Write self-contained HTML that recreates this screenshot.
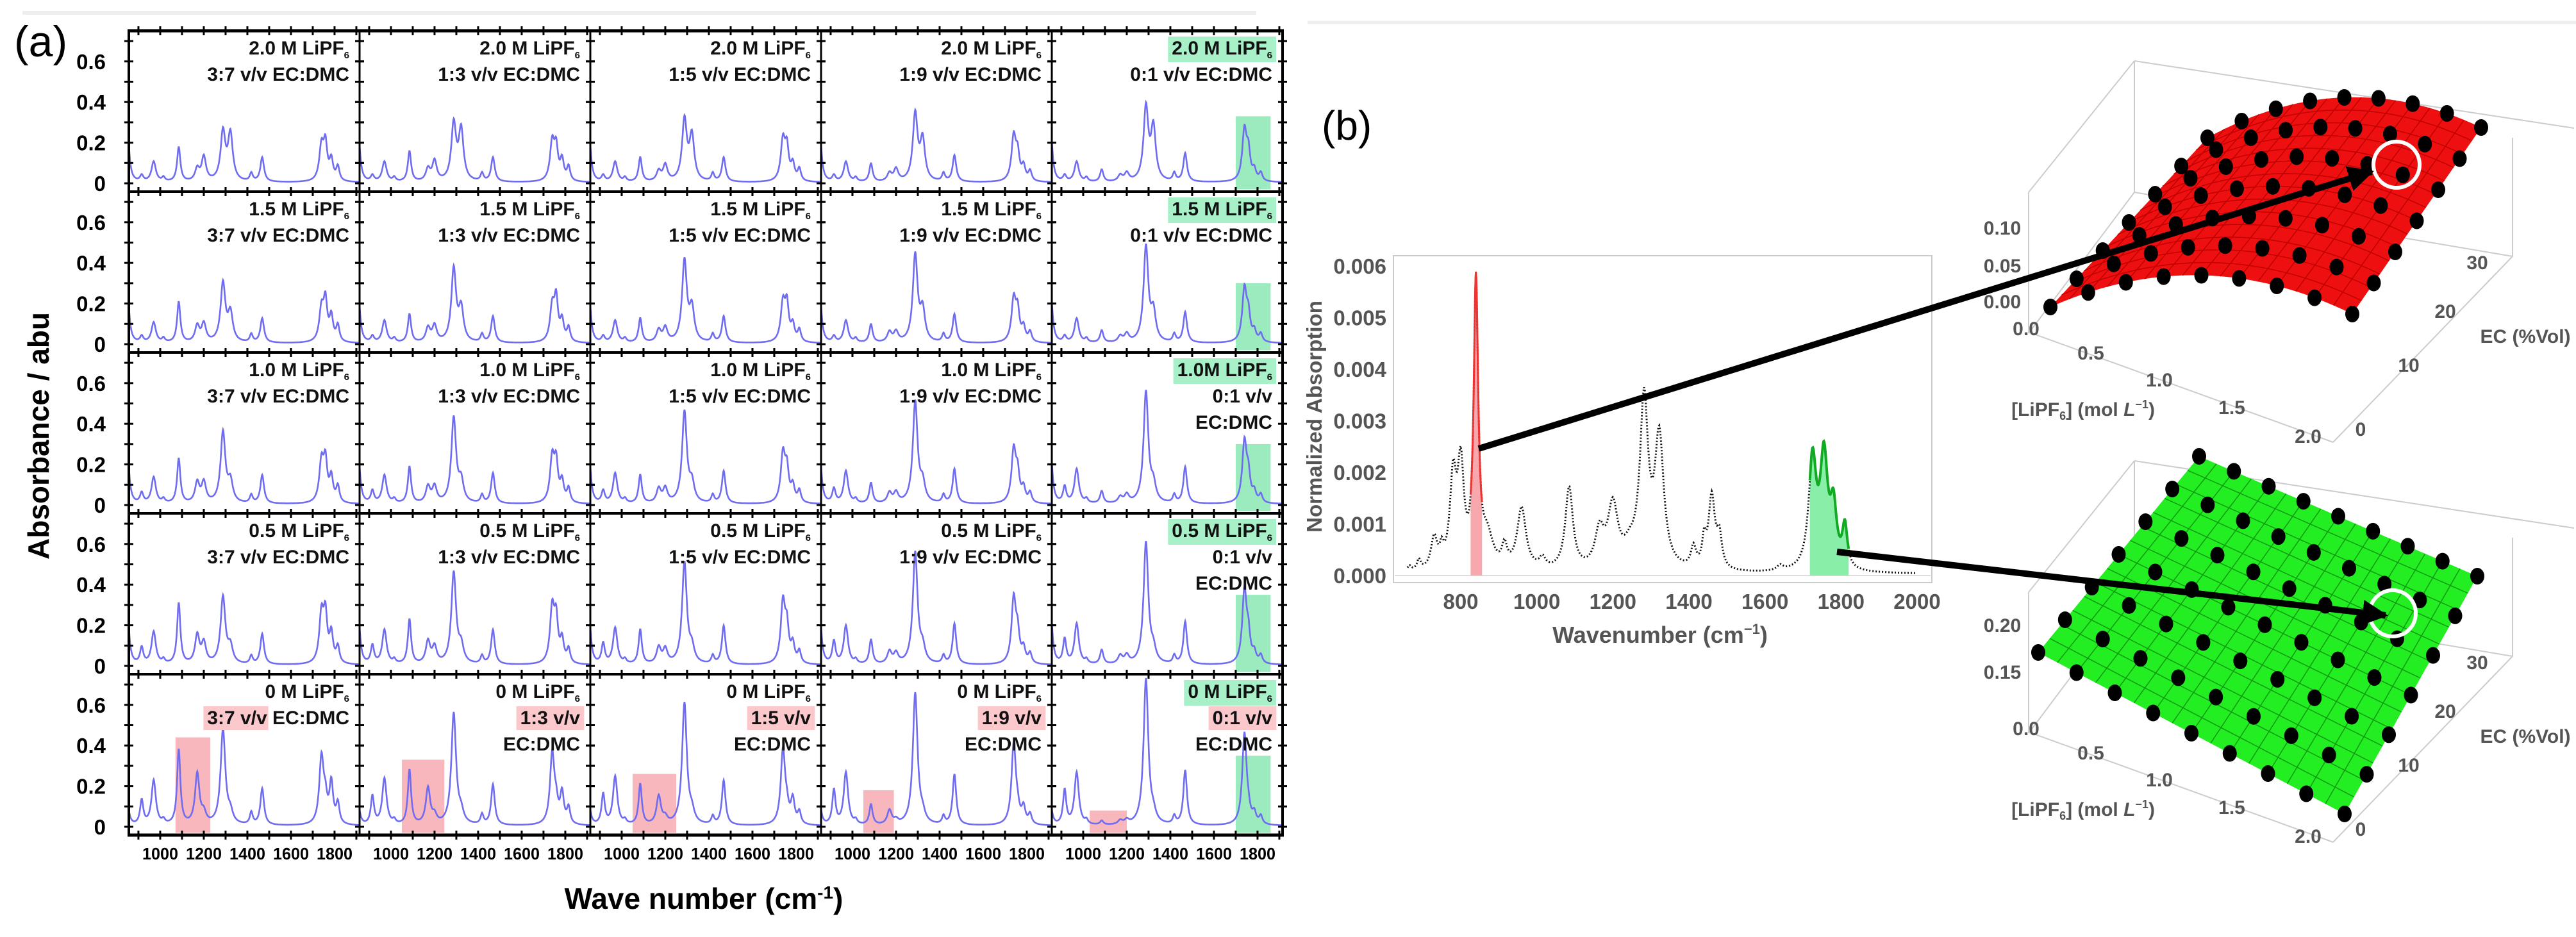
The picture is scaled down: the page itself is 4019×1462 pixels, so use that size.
<!DOCTYPE html>
<html><head><meta charset="utf-8"><style>
html,body{margin:0;padding:0;background:#fff;}
svg{display:block;font-family:"Liberation Sans",sans-serif;}
</style></head><body>
<svg id="fig" width="4019" height="1462" viewBox="0 0 4019 1462" xmlns="http://www.w3.org/2000/svg">
<line x1="35" y1="20" x2="1960" y2="20" stroke="#eee" stroke-width="6"/>
<line x1="2040" y1="35" x2="4019" y2="35" stroke="#eee" stroke-width="5"/>
<text x="22" y="88" font-size="68">(a)</text>
<text x="2062" y="218" font-size="64">(b)</text>
<g id="pa"></g>
<g id="pb"></g>
<g id="p3"></g>
</svg>
<script>
// ---------- Panel (a) data ----------
const concentrations = ["2.0","1.5","1.0","0.5","0"];
const ratios = ["3:7","1:3","1:5","1:9","0:1"];
const yTicksA = [0,0.2,0.4,0.6];
const xTicksA = [1000,1200,1400,1600,1800];
const peakPos = [850,915,970,1015,1085,1170,1200,1288,1322,1418,1468,1740,1758,1785,1815];
const peakW   = [10,9,12,8,9,12,12,13,13,8,10,12,10,10,9];
// heights [row][col][peak]
const H = [
 [[0.25,0.03,0.1,0.02,0.17,0.06,0.12,0.24,0.23,0.04,0.12,0.17,0.17,0.1,0.07],
  [0.25,0.03,0.1,0.02,0.15,0.06,0.1,0.28,0.25,0.04,0.12,0.19,0.15,0.1,0.07],
  [0.25,0.03,0.1,0.02,0.12,0.05,0.08,0.3,0.22,0.04,0.12,0.2,0.15,0.08,0.06],
  [0.25,0.03,0.1,0.02,0.09,0.04,0.06,0.33,0.2,0.04,0.13,0.22,0.12,0.07,0.05],
  [0.28,0.03,0.1,0.02,0.06,0.03,0.04,0.36,0.26,0.04,0.14,0.25,0.13,0.05,0.04]],
 [[0.25,0.03,0.1,0.02,0.2,0.08,0.09,0.29,0.14,0.04,0.12,0.16,0.19,0.12,0.08],
  [0.25,0.03,0.11,0.02,0.14,0.07,0.08,0.36,0.16,0.04,0.13,0.17,0.2,0.1,0.07],
  [0.25,0.03,0.11,0.02,0.12,0.06,0.07,0.4,0.16,0.04,0.13,0.19,0.17,0.08,0.06],
  [0.25,0.03,0.11,0.02,0.09,0.05,0.05,0.43,0.15,0.04,0.14,0.21,0.14,0.07,0.05],
  [0.28,0.03,0.12,0.02,0.06,0.03,0.04,0.47,0.14,0.04,0.15,0.26,0.12,0.05,0.04]],
 [[0.25,0.05,0.13,0.02,0.22,0.1,0.1,0.35,0.1,0.04,0.14,0.2,0.19,0.12,0.08],
  [0.25,0.06,0.14,0.02,0.18,0.08,0.08,0.42,0.1,0.04,0.15,0.22,0.18,0.1,0.07],
  [0.25,0.06,0.15,0.02,0.14,0.07,0.07,0.45,0.09,0.04,0.16,0.24,0.15,0.08,0.06],
  [0.25,0.07,0.16,0.02,0.1,0.05,0.05,0.5,0.09,0.04,0.17,0.26,0.13,0.07,0.05],
  [0.28,0.08,0.17,0.02,0.06,0.03,0.04,0.55,0.08,0.04,0.18,0.3,0.12,0.05,0.04]],
 [[0.25,0.08,0.16,0.02,0.3,0.14,0.1,0.33,0.08,0.04,0.15,0.24,0.22,0.14,0.08],
  [0.25,0.09,0.17,0.02,0.22,0.11,0.08,0.45,0.08,0.04,0.17,0.27,0.2,0.11,0.07],
  [0.25,0.1,0.18,0.02,0.17,0.08,0.07,0.5,0.07,0.04,0.19,0.3,0.16,0.09,0.06],
  [0.25,0.11,0.19,0.02,0.12,0.06,0.05,0.55,0.07,0.04,0.2,0.32,0.13,0.07,0.05],
  [0.28,0.12,0.2,0.02,0.07,0.04,0.04,0.6,0.06,0.04,0.21,0.36,0.12,0.05,0.04]],
 [[0.1,0.12,0.22,0.02,0.37,0.25,0.05,0.47,0.05,0.06,0.18,0.33,0.1,0.2,0.1],
  [0.1,0.14,0.23,0.02,0.27,0.18,0.04,0.55,0.05,0.05,0.2,0.35,0.08,0.15,0.08],
  [0.1,0.15,0.24,0.02,0.2,0.14,0.03,0.6,0.05,0.04,0.22,0.37,0.06,0.12,0.06],
  [0.1,0.17,0.26,0.02,0.1,0.07,0.02,0.65,0.04,0.04,0.25,0.4,0.05,0.08,0.05],
  [0.1,0.17,0.26,0.02,0.02,0.02,0.02,0.72,0.04,0.04,0.27,0.45,0.04,0.05,0.04]]
];
const redBoxTop = [0.44,0.33,0.26,0.18,0.08];
const redBoxLo  = [1070,1050,1050,1050,1030];
const redBoxHi  = [1230,1245,1250,1190,1200];
const greenBoxTop = [0.33,0.3,0.3,0.35,0.35];

// ---------- Panel (b) data ----------
const bPeakPos = [665,690,730,750,780,800,840,870,915,960,1015,1085,1165,1200,1245,1282,1322,1412,1440,1460,1480,1640,1725,1755,1780,1810];
const bPeakH   = [0.0001,0.0002,0.0006,0.0003,0.0017,0.0019,0.0055,0.0006,0.0004,0.0012,0.0002,0.0016,0.0007,0.0012,0.0003,0.0032,0.0025,0.0004,0.0005,0.0014,0.0006,0.0001,0.0021,0.0021,0.0011,0.0008];
const bPeakW   = [6,6,10,6,10,10,7,18,8,14,10,12,14,16,20,13,14,8,6,10,8,10,12,12,10,8];
const bYTicks = [0,0.001,0.002,0.003,0.004,0.005,0.006];
const bXTicks = [800,1000,1200,1400,1600,1800,2000];

const NS="http://www.w3.org/2000/svg";
function mk(tag,attrs,parent){const e=document.createElementNS(NS,tag);for(const k in attrs)e.setAttribute(k,attrs[k]);parent.appendChild(e);return e;}

// ---------- Panel (a) ----------
const pa=document.getElementById('pa');
const L=201,T=48,CW=360,RH=251,WMIN=856,PXW=0.34,Z0=238,PXV=317;
function xa(c,w){return L+c*CW+(w-WMIN)*PXW;}
function ya(r,v){return T+r*RH+Z0-v*PXV;}
const defs=mk('defs',{},document.getElementById('fig'));
for(let r=0;r<5;r++)for(let c=0;c<5;c++){
  const cp=mk('clipPath',{id:'cl'+r+c},defs);
  mk('rect',{x:L+c*CW,y:T+r*RH,width:CW,height:RH},cp);
}
for(let r=0;r<5;r++){
  for(let c=0;c<5;c++){
    const g=mk('g',{'clip-path':'url(#cl'+r+c+')'},pa);
    
    
    if(r===4){
      const rb=mk('rect',{x:xa(c,redBoxLo[c]),y:ya(r,redBoxTop[c]),width:(redBoxHi[c]-redBoxLo[c])*PXW,height:ya(r,-0.03)-ya(r,redBoxTop[c]),fill:'#f7aab0',opacity:0.85},g);
      
      
    }
    if(c===4){
      const gb=mk('rect',{x:xa(c,1700),y:ya(r,greenBoxTop[r]),width:160*PXW,height:ya(r,-0.03)-ya(r,greenBoxTop[r]),fill:'#8be8b4',opacity:0.85},g);
      
      
    }
    let d='';
    for(let w=840;w<=1920;w+=2){
      let v=0.004;
      for(let k=0;k<peakPos.length;k++){const t=(w-peakPos[k])/peakW[k];v+=H[r][c][k]/(1+t*t);}
      d+=(d?'L':'M')+xa(c,w).toFixed(1)+','+ya(r,v).toFixed(1);
    }
    const p=mk('path',{d:d,fill:'none',stroke:'#6f6cf0','stroke-width':2.6},g);
    
    
    for(let w=900;w<=1900;w+=100){
      const x=xa(c,w);
      mk('line',{x1:x,y1:T+r*RH-7,x2:x,y2:T+r*RH+7,stroke:'#000','stroke-width':3},pa);
      mk('line',{x1:x,y1:T+(r+1)*RH-7,x2:x,y2:T+(r+1)*RH+7,stroke:'#000','stroke-width':3},pa);
    }
    for(let v=0;v<=0.71;v+=0.1){
      const y=ya(r,v);
      mk('line',{x1:L+c*CW-7,y1:y,x2:L+c*CW+7,y2:y,stroke:'#000','stroke-width':3},pa);
      mk('line',{x1:L+(c+1)*CW-7,y1:y,x2:L+(c+1)*CW+7,y2:y,stroke:'#000','stroke-width':3},pa);
    }
    const xr=L+(c+1)*CW-16, y0=T+r*RH;
    const lines=[];
    const conc=(r===2&&c===4)?'1.0M LiPF':concentrations[r]+' M LiPF';
    lines.push({t:conc,sub:true,bg:(c===4)?'#a8f0c8':null});
    const three=(r>=2&&c===4)||(r===4&&c>0);
    if(three){lines.push({t:ratios[c]+' v/v',bg:(r===4)?'#fbc8cc':null});lines.push({t:'EC:DMC'});}
    else{lines.push({t:ratios[c]+' v/v EC:DMC',bg:(r===4)?'#fbc8cc':null,part:(r===4)?ratios[c]+' v/v':null});}
    lines.forEach((ln,i)=>{
      const yy=y0+37+i*41;
      const tg=mk('g',{},pa);
      
      
      const txt=mk('text',{x:xr,y:yy,'font-size':30,'font-weight':'bold','text-anchor':'end',fill:'#111'},tg);
      txt.textContent=ln.t;
      if(ln.sub){const s=mk('tspan',{'font-size':15,dy:6},txt);s.textContent='6';}
      if(ln.bg){
        const bb=txt.getBBox();
        let bx=bb.x-6,bw=bb.width+12;
        if(ln.part){const tmp=mk('text',{'font-size':30,'font-weight':'bold'},pa);tmp.textContent=ln.part;bw=tmp.getComputedTextLength()+8;pa.removeChild(tmp);}
        const br=mk('rect',{x:bx,y:bb.y-2,width:bw,height:bb.height+4,fill:ln.bg},tg);
        tg.insertBefore(br,txt);
      }
    });
  }
  yTicksA.forEach(v=>{
    const t=mk('text',{x:165,y:ya(r,v)+12,'font-size':33,'font-weight':'bold','text-anchor':'end'},pa);
    
    
    t.textContent=(v===0?'0':v.toFixed(1));
  });
}
for(let r=0;r<=5;r++)mk('line',{x1:L-2,y1:T+r*RH,x2:L+5*CW+2,y2:T+r*RH,stroke:'#000','stroke-width':(r===0||r===5)?5:4},pa);
for(let c=0;c<=5;c++)mk('line',{x1:L+c*CW,y1:T,x2:L+c*CW,y2:T+5*RH,stroke:'#000','stroke-width':(c===0||c===5)?4:3},pa);
for(let c=0;c<5;c++)xTicksA.forEach(w=>{
  const t=mk('text',{x:xa(c,w),y:1341,'font-size':26,'font-weight':'bold','text-anchor':'middle',textLength:56,lengthAdjust:'spacingAndGlyphs'},pa);
  
  
  t.textContent=w;
});
{const t=mk('text',{x:1098,y:1418,'font-size':46,'font-weight':'bold','text-anchor':'middle'},pa);

t.textContent='Wave number (cm';const s=mk('tspan',{'font-size':28,dy:-16},t);s.textContent='-1';const s2=mk('tspan',{dy:16},t);s2.textContent=')';}
{const t=mk('text',{x:0,y:0,'font-size':46,'font-weight':'bold','text-anchor':'middle',transform:'translate(76,680) rotate(-90)'},pa);
t.textContent='Absorbance / abu';}

// ---------- Panel (b) spectrum ----------
const pb=document.getElementById('pb');
const BX0=2279,BPX=(2991-2279)/1200,BY0=898,BPY=(898-415)/0.006;
function xb(w){return BX0+(w-800)*BPX;}
function yb(v){return BY0-v*BPY;}
function bval(w){let v=0.00003;for(let k=0;k<bPeakPos.length;k++){const t=(w-bPeakPos[k])/bPeakW[k];v+=bPeakH[k]/(1+t*t);}return v;}
mk('rect',{x:2174,y:399,width:840,height:510,fill:'none',stroke:'#ccc','stroke-width':2},pb);
mk('line',{x1:2176,y1:yb(0),x2:3012,y2:yb(0),stroke:'#ddd','stroke-width':2},pb);
function area(a,b,col){let d='M'+xb(a)+','+yb(0);for(let w=a;w<=b;w+=1)d+='L'+xb(w).toFixed(1)+','+yb(bval(w)).toFixed(1);d+='L'+xb(b)+','+yb(0)+'Z';return mk('path',{d:d,fill:col},pb);}
const ra=area(826,856,'#f8a8ac');
const ga=area(1718,1820,'#88eea8');
{let d='';for(let w=660;w<=2000;w+=2)d+=(d?'L':'M')+xb(w).toFixed(1)+','+yb(bval(w)).toFixed(1);
const p=mk('path',{d:d,fill:'none',stroke:'#111','stroke-width':3,'stroke-dasharray':'2 3'},pb);

let d2='';for(let w=826;w<=856;w+=1)d2+=(d2?'L':'M')+xb(w).toFixed(1)+','+yb(bval(w)).toFixed(1);
mk('path',{d:d2,fill:'none',stroke:'#e33','stroke-width':3},pb);
let d3='';for(let w=1718;w<=1820;w+=1)d3+=(d3?'L':'M')+xb(w).toFixed(1)+','+yb(bval(w)).toFixed(1);
mk('path',{d:d3,fill:'none',stroke:'#1a2','stroke-width':4},pb);}
bYTicks.forEach(v=>{const t=mk('text',{x:2163,y:yb(v)+12,'font-size':33,'font-weight':'bold','text-anchor':'end',fill:'#555'},pb);
t.textContent=v.toFixed(3);});
bXTicks.forEach(w=>{const t=mk('text',{x:xb(w),y:950,'font-size':33,'font-weight':'bold','text-anchor':'middle',fill:'#555'},pb);
t.textContent=w;});
{const t=mk('text',{x:2590,y:1003,'font-size':36,'font-weight':'bold','text-anchor':'middle',fill:'#555'},pb);

t.textContent='Wavenumber (cm';const s=mk('tspan',{'font-size':22,dy:-14},t);s.textContent='−1';const s2=mk('tspan',{dy:14},t);s2.textContent=')';}
{const t=mk('text',{x:0,y:0,'font-size':33,'font-weight':'bold','text-anchor':'middle',fill:'#555',transform:'translate(2062,650) rotate(-90)'},pb);
t.textContent='Normalized Absorption';}

// ---------- 3D surfaces ----------
const p3=document.getElementById('p3');
function surface(corners,bulge,fill,gridCol,dy,name){
  const g=mk('g',{},p3);
  
  
  const box=[[3165,300+dy,3165,520+dy],[3165,300+dy,3330,95+dy],[3330,95+dy,4016,200+dy],[3170,520+dy,3640,690+dy],[3640,690+dy,3920,400+dy],[3920,215+dy,3920,400+dy],[3330,95+dy,3330,300+dy],[3330,300+dy,3920,400+dy],[3165,520+dy,3330,300+dy]];
  box.forEach(b=>mk('line',{x1:b[0],y1:b[1],x2:b[2],y2:b[3],stroke:'#ccc','stroke-width':2},g));
  const [A,B,C,D]=corners;
  function P(u,v){
    const x=(1-u)*(1-v)*A[0]+u*(1-v)*D[0]+u*v*C[0]+(1-u)*v*B[0];
    const y=(1-u)*(1-v)*A[1]+u*(1-v)*D[1]+u*v*C[1]+(1-u)*v*B[1]-bulge*4*u*(1-u);
    return [x,y];}
  let d='';const N=30;
  for(let i=0;i<=N;i++){const p=P(i/N,0);d+=(d?'L':'M')+p[0].toFixed(1)+','+p[1].toFixed(1);}
  for(let i=0;i<=N;i++){const p=P(1,i/N);d+='L'+p[0].toFixed(1)+','+p[1].toFixed(1);}
  for(let i=N;i>=0;i--){const p=P(i/N,1);d+='L'+p[0].toFixed(1)+','+p[1].toFixed(1);}
  for(let i=N;i>=0;i--){const p=P(0,i/N);d+='L'+p[0].toFixed(1)+','+p[1].toFixed(1);}
  mk('path',{d:d+'Z',fill:fill},g);
  for(let i=1;i<16;i++){let l='';for(let j=0;j<=N;j++){const p=P(i/16,j/N);l+=(l?'L':'M')+p[0].toFixed(1)+','+p[1].toFixed(1);}mk('path',{d:l,fill:'none',stroke:gridCol,'stroke-width':1.5},g);}
  for(let j=1;j<14;j++){let l='';for(let i=0;i<=N;i++){const p=P(i/N,j/14);l+=(l?'L':'M')+p[0].toFixed(1)+','+p[1].toFixed(1);}mk('path',{d:l,fill:'none',stroke:gridCol,'stroke-width':1.5},g);}
  for(let i=0;i<=8;i++)for(let j=0;j<=6;j++){const p=P(i/8,j/6);mk('ellipse',{cx:p[0],cy:p[1],rx:11,ry:13,fill:'#000'},g);}
  return g;
}
surface([[3199,479],[3444,215],[3871,199],[3670,490]],55,'#ee1010','#c00000',0,'red-surface');
surface([[3180,1018],[3431,712],[3865,899],[3658,1270]],0,'#22ee22','#119911',624,'green-surface');
function lab(x,y,t,name){const e=mk('text',{x:x,y:y,'font-size':30,'font-weight':'bold','text-anchor':'middle',fill:'#555'},p3);e.textContent=t;return e;}
[[0,0],[624,1]].forEach(([dy,k])=>{
  const z=k?['0.20','0.15']:['0.10','0.05','0.00'];
  const zy=k?[986,1059]:[366,425,481];
  z.forEach((t,i)=>lab(3124,zy[i],t,'z-tick-label'));
  [['0.0',3161,523],['0.5',3262,561],['1.0',3369,603],['1.5',3482,646],['2.0',3601,691]].forEach(a=>lab(a[1],a[2]+dy,a[0],'lipf6-tick-label'));
  [['0',3683,680],['10',3758,580],['20',3815,496],['30',3865,420]].forEach(a=>lab(a[1],a[2]+dy,a[0],'ec-tick-label'));
  lab(3940,535+dy,'EC (%Vol)','ec-axis-title');
  const li=lab(3250,649+dy,'[LiPF','lipf6-axis-title');
  const s=mk('tspan',{'font-size':18,dy:6},li);s.textContent='6';
  const s2=mk('tspan',{dy:-6},li);s2.textContent='] (mol ';
  const s3=mk('tspan',{'font-style':'italic'},li);s3.textContent='L';
  const s4=mk('tspan',{'font-size':18,dy:-12},li);s4.textContent='−1';
  const s5=mk('tspan',{dy:12},li);s5.textContent=')';
});
mk('circle',{cx:3739,cy:257,r:36,fill:'none',stroke:'#fff','stroke-width':6},p3);
mk('circle',{cx:3733,cy:957,r:36,fill:'none',stroke:'#fff','stroke-width':6},p3);
mk('marker',{id:'ah',viewBox:'0 0 10 10',refX:9,refY:5,markerWidth:4,markerHeight:4,orient:'auto'},defs);
mk('path',{d:'M0,0L10,5L0,10Z',fill:'#000'},defs.lastChild);
const a1=mk('line',{x1:2307,y1:700,x2:3700,y2:268,stroke:'#000','stroke-width':10,'marker-end':'url(#ah)'},p3);

const a2=mk('line',{x1:2866,y1:861,x2:3722,y2:960,stroke:'#000','stroke-width':10,'marker-end':'url(#ah)'},p3);

</script>
</body></html>
